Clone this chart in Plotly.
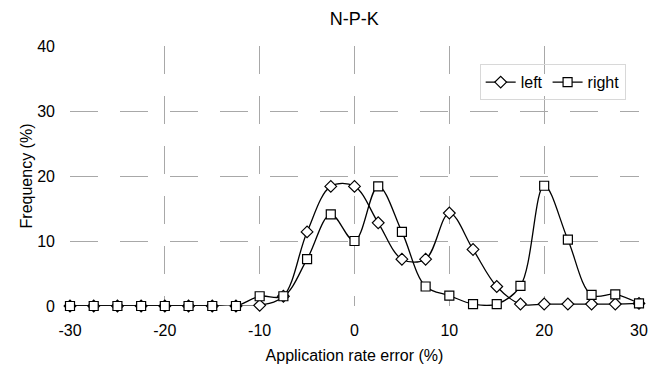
import plotly.graph_objects as go

x_vals = [-30, -27.5, -25, -22.5, -20, -17.5, -15, -12.5, -10, -7.5, -5, -2.5, 0,
          2.5, 5, 7.5, 10, 12.5, 15, 17.5, 20, 22.5, 25, 27.5, 30]
left_vals = [0, 0, 0, 0, 0, 0, 0, 0, 0.1, 1.5, 11.4, 18.4, 18.4,
             12.8, 7.2, 7.2, 14.3, 8.7, 3.0, 0.3, 0.3, 0.3, 0.3, 0.3, 0.4]
right_vals = [0, 0, 0, 0, 0, 0, 0, 0, 1.5, 1.5, 7.2, 14.1, 10.0,
              18.4, 11.4, 3.0, 1.6, 0.3, 0.3, 3.1, 18.5, 10.2, 1.7, 1.8, 0.4]
x_ticks = [-30, -20, -10, 0, 10, 20, 30]
y_ticks = [0, 10, 20, 30, 40]

font = "Liberation Sans, Arial, sans-serif"

fig = go.Figure()
fig.add_trace(go.Scatter(
    x=x_vals, y=left_vals, name="left", mode="lines+markers",
    line=dict(color="black", width=1.3, shape="spline", smoothing=1.0),
    marker=dict(symbol="diamond", size=9, color="white",
                line=dict(color="black", width=1.2)),
    cliponaxis=False,
))
fig.add_trace(go.Scatter(
    x=x_vals, y=right_vals, name="right", mode="lines+markers",
    line=dict(color="black", width=1.3, shape="spline", smoothing=1.0),
    marker=dict(symbol="square", size=9, color="white",
                line=dict(color="black", width=1.2)),
    cliponaxis=False,
))

fig.update_layout(
    width=659, height=365,
    margin=dict(l=70, r=20, t=46, b=59),
    paper_bgcolor="white", plot_bgcolor="white",
    font=dict(family=font, size=16, color="black"),
    title=dict(text="N-P-K", x=0.5375, xanchor="center", y=0.95, yanchor="middle",
               font=dict(family=font, size=18, color="black")),
    showlegend=True,
    legend=dict(orientation="h", x=0.72, y=0.93, xanchor="left", yanchor="top",
                bgcolor="rgba(255,255,255,0)", bordercolor="#d8d8d8", borderwidth=1,
                font=dict(family=font, size=16, color="black"),
                itemwidth=30, tracegroupgap=0),
)
fig.update_xaxes(
    range=[-30, 30], tickvals=x_ticks, ticktext=[str(v) for v in x_ticks],
    showgrid=True, gridcolor="#a8a8a8", gridwidth=1, griddash="28px,22px",
    zeroline=False, showline=False, ticks="", ticklabelstandoff=13,
    automargin=False,
    title=dict(text="Application rate error (%)", font=dict(family=font, size=16), standoff=11),
    tickfont=dict(family=font, size=16),
)
fig.update_yaxes(
    range=[0, 40], tickvals=y_ticks, ticktext=[str(v) for v in y_ticks],
    showgrid=True, gridcolor="#a8a8a8", gridwidth=1, griddash="28px,22px",
    zeroline=False, showline=False, ticks="", ticklabelstandoff=14,
    automargin=False,
    title=dict(text="Frequency (%)", font=dict(family=font, size=16), standoff=0),
    tickfont=dict(family=font, size=16),
)

fig.write_html("out.html")
